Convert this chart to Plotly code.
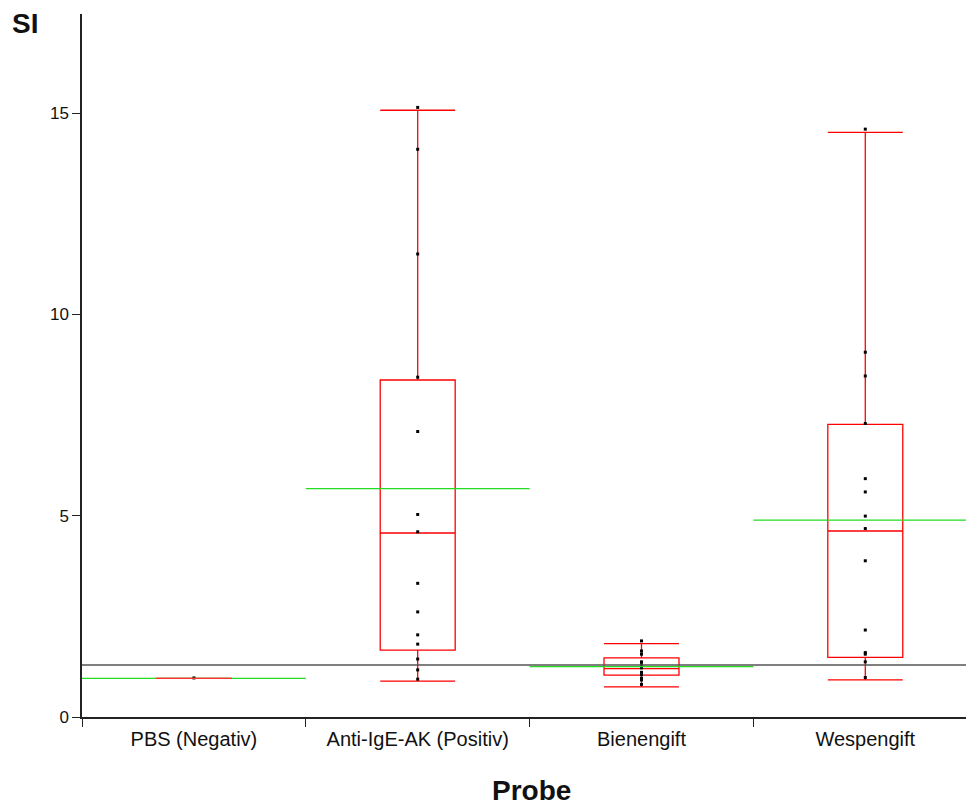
import plotly.graph_objects as go

categories = ["PBS (Negativ)", "Anti-IgE-AK (Positiv)", "Bienengift", "Wespengift"]

pbs_points = [0.97]
anti_ige_points = [15.14, 14.1, 11.5, 8.44, 7.09, 5.03, 4.6, 3.32, 2.61, 2.04, 1.81, 1.44, 1.17, 0.94]
biene_points = [1.89, 1.64, 1.56, 1.37, 1.30, 1.22, 1.11, 1.05, 0.96, 0.92, 0.81]
wespe_points = [14.6, 9.06, 8.47, 7.29, 5.92, 5.59, 4.99, 4.68, 3.88, 2.16, 1.6, 1.56, 1.37, 0.98]

# box statistics
lower_fence = [0.96, 0.89, 0.75, 0.92]
q1_vals = [0.96, 1.66, 1.04, 1.48]
median_vals = [0.96, 4.57, 1.20, 4.62]
q3_vals = [0.96, 8.37, 1.47, 7.27]
upper_fence = [0.96, 15.07, 1.82, 14.52]
mean_vals = [0.96, 5.67, 1.25, 4.89]

threshold = 1.29
y_ticks = [0, 5, 10, 15]

all_points = [pbs_points, anti_ige_points, biene_points, wespe_points]

fig = go.Figure()

fig.add_trace(go.Box(
    x=categories,
    q1=q1_vals, median=median_vals, q3=q3_vals,
    lowerfence=lower_fence, upperfence=upper_fence,
    boxpoints=False,
    line=dict(color="#ff0000", width=1.3),
    fillcolor="rgba(0,0,0,0)",
    whiskerwidth=1,
    showlegend=False,
    hoverinfo="skip",
))

px, py = [], []
for cat, pts in zip(categories, all_points):
    for v in pts:
        px.append(cat)
        py.append(v)

fig.add_trace(go.Scatter(
    x=px, y=py, mode="markers",
    marker=dict(symbol="square", size=3, color="black"),
    showlegend=False,
))

shapes = []
shapes.append(dict(type="line", xref="paper", yref="y", x0=0, x1=1,
                   y0=threshold, y1=threshold,
                   line=dict(color="#555555", width=1.5)))
for i, m in enumerate(mean_vals):
    shapes.append(dict(type="line", xref="x", yref="y", x0=i - 0.5, x1=i + 0.5,
                       y0=m, y1=m, line=dict(color="#22dd22", width=1.3)))
# PBS: median drawn over mean in red (box of zero height)
shapes.append(dict(type="line", xref="x", yref="y", x0=-0.17, x1=0.17,
                   y0=median_vals[0], y1=median_vals[0],
                   line=dict(color="#ff3333", width=1.3)))

fig.update_layout(
    width=966, height=805,
    margin=dict(l=82, r=0, t=14, b=88),
    plot_bgcolor="white", paper_bgcolor="white",
    boxgap=0.665, boxgroupgap=0,
    shapes=shapes,
    font=dict(family="Liberation Sans, Arial, sans-serif", color="#111111"),
    annotations=[
        dict(text="<b>SI</b>", xref="paper", yref="paper", x=-0.081, y=1.012,
             xanchor="left", yanchor="top", showarrow=False,
             font=dict(size=28, color="#111111")),
        dict(text="<b>Probe</b>", xref="paper", yref="paper", x=0.509, y=-0.105,
             xanchor="center", yanchor="middle", showarrow=False,
             font=dict(size=28, color="#111111")),
    ],
)

fig.update_xaxes(
    type="category",
    range=[-0.5, 3.45],
    showline=True, linecolor="#222222", linewidth=1.5,
    ticks="outside", tickson="boundaries", ticklen=8, tickcolor="#222222",
    tickfont=dict(size=20),
    ticklabelstandoff=3,
    showgrid=False, zeroline=False,
)
fig.update_yaxes(
    range=[0, 17.46],
    tickvals=y_ticks,
    showline=True, linecolor="#222222", linewidth=1.5,
    ticks="outside", ticklen=8, tickcolor="#222222",
    tickfont=dict(size=17),
    showgrid=False, zeroline=False,
)

fig.write_html("out.html", config={"displayModeBar": False},
               post_script="document.body.style.margin='0';")
